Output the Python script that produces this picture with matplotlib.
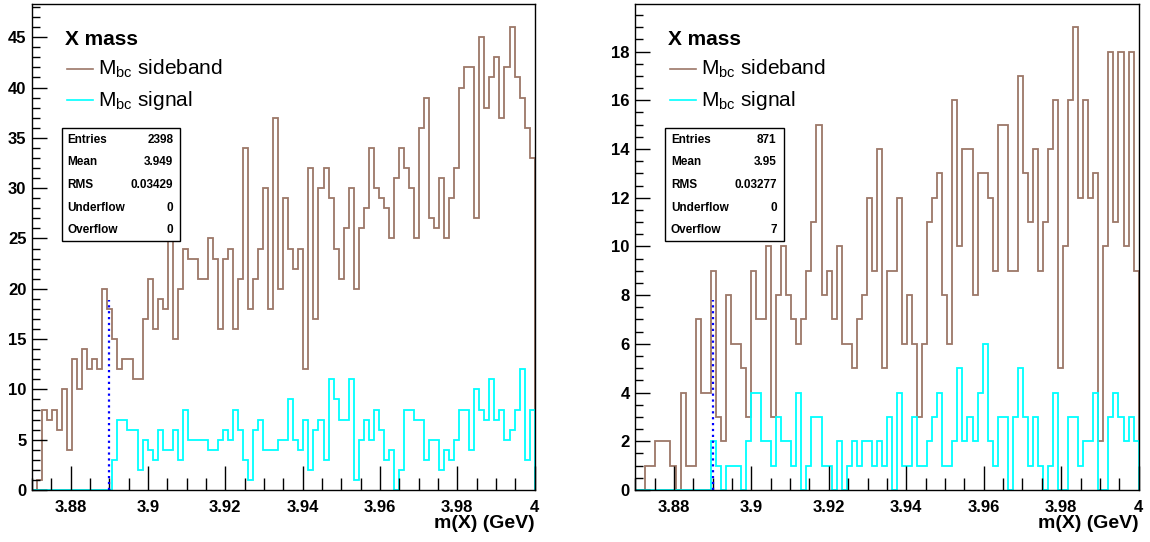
import numpy as np
import matplotlib
matplotlib.use("Agg")
import matplotlib.pyplot as plt
from matplotlib.patches import Rectangle
from matplotlib.lines import Line2D
from matplotlib.ticker import FixedLocator, MultipleLocator

plt.rcParams['font.family'] = ['Liberation Sans', 'DejaVu Sans']

# 100 bins between 3.87 and 4.0 GeV
edges = np.linspace(3.87, 4.0, 101)
xticks = [3.88, 3.90, 3.92, 3.94, 3.96, 3.98, 4.00]
xticklabels = ["3.88", "3.9", "3.92", "3.94", "3.96", "3.98", "4"]

left_sideband = [0, 1, 8, 7, 8, 6, 10, 4, 13, 10, 14, 12, 13, 12, 20, 18, 15, 12, 13, 13,
                 11, 11, 17, 21, 16, 19, 18, 26, 15, 20, 24, 23, 23, 21, 21, 25, 23, 16, 23, 24,
                 16, 21, 34, 18, 21, 24, 30, 18, 37, 20, 29, 24, 22, 24, 12, 32, 17, 30, 32, 29,
                 24, 21, 26, 30, 20, 26, 28, 34, 30, 29, 28, 25, 31, 34, 32, 30, 25, 36, 39, 27,
                 26, 31, 25, 29, 32, 40, 42, 42, 27, 45, 38, 41, 43, 37, 42, 46, 41, 39, 36, 33]
left_signal = [0, 0, 0, 0, 0, 0, 0, 0, 0, 0, 0, 0, 0, 0, 0, 0, 3, 7, 7, 6,
               6, 2, 5, 4, 3, 6, 4, 4, 6, 3, 8, 5, 5, 5, 5, 4, 4, 5, 6, 5,
               8, 6, 3, 1, 6, 7, 4, 4, 4, 5, 5, 9, 5, 4, 7, 2, 6, 7, 3, 11,
               9, 7, 7, 11, 1, 5, 7, 5, 8, 6, 3, 4, 0, 2, 8, 8, 7, 7, 3, 5,
               5, 2, 4, 3, 5, 8, 8, 4, 10, 8, 7, 11, 7, 8, 5, 6, 8, 12, 3, 8]

right_sideband = [0, 0, 1, 1, 2, 2, 2, 1, 0, 4, 1, 1, 7, 4, 4, 9, 3, 2, 8, 6,
                  6, 5, 3, 9, 7, 7, 10, 3, 8, 10, 8, 7, 6, 7, 9, 11, 15, 8, 9, 7,
                  10, 6, 6, 5, 7, 8, 12, 9, 14, 5, 9, 9, 12, 6, 8, 6, 3, 6, 11, 12,
                  13, 8, 6, 16, 10, 14, 14, 8, 13, 13, 12, 9, 15, 15, 9, 9, 17, 13, 11, 14,
                  9, 11, 14, 16, 5, 10, 16, 19, 12, 16, 12, 13, 2, 10, 18, 11, 18, 10, 18, 9]
right_signal = [0, 0, 0, 0, 0, 0, 0, 0, 0, 0, 0, 0, 0, 0, 0, 2, 1, 0, 1, 1,
                1, 0, 2, 4, 4, 2, 2, 1, 3, 2, 2, 1, 4, 0, 1, 3, 3, 1, 1, 0,
                2, 0, 1, 2, 1, 2, 2, 1, 2, 1, 3, 0, 4, 1, 1, 3, 1, 1, 2, 3,
                4, 1, 1, 2, 5, 2, 3, 2, 4, 6, 2, 1, 3, 3, 0, 3, 5, 3, 1, 3,
                1, 0, 1, 4, 0, 0, 3, 3, 1, 2, 2, 4, 0, 0, 3, 4, 3, 2, 3, 2]

stat_names = ["Entries", "Mean", "RMS", "Underflow", "Overflow"]
left_stats = ["2398", "3.949", "0.03429", "0", "0"]
right_stats = ["871", "3.95", "0.03277", "0", "7"]

cut = 3.89
brown = "#9c7768"
cyan = "#00ffff"

fig = plt.figure(figsize=(11.5, 5.42), dpi=100)

panels = [
    ([0.0278, 0.0959, 0.4371, 0.8967], left_sideband, left_signal, left_stats, 5, 1),
    ([0.5524, 0.0959, 0.4377, 0.8967], right_sideband, right_signal, right_stats, 2, 0.5),
]

for rect, side, sig, stats, ymaj, ymin in panels:
    ax = fig.add_axes(rect)
    top = 1.05 * max(side)
    ax.stairs(side, edges, color=brown, lw=1.3)
    ax.stairs(sig, edges, color=cyan, lw=1.3)
    ax.plot([cut, cut], [0, 0.39 * top], color="blue", ls=":", lw=1.6)
    ax.set_xlim(3.87, 4.0)
    ax.set_ylim(0, top)

    ax.xaxis.set_major_locator(FixedLocator(xticks))
    ax.set_xticklabels(xticklabels)
    ax.xaxis.set_minor_locator(MultipleLocator(0.005))
    ax.yaxis.set_major_locator(MultipleLocator(ymaj))
    ax.yaxis.set_minor_locator(MultipleLocator(ymin))
    ax.tick_params(axis="x", which="major", direction="in", length=17, width=1,
                   labelsize=12, pad=7, top=False)
    ax.tick_params(axis="x", which="minor", direction="in", length=9, width=1, top=False)
    ax.tick_params(axis="y", which="major", direction="in", length=11, width=1,
                   labelsize=12, pad=4, right=False)
    ax.tick_params(axis="y", which="minor", direction="in", length=6, width=1, right=False)
    for lab in ax.get_xticklabels() + ax.get_yticklabels():
        lab.set_fontweight("bold")
    for sp in ax.spines.values():
        sp.set_linewidth(1)

    ax.set_xlabel("m(X) (GeV)", fontsize=14, fontweight="bold", ha="right")
    ax.xaxis.set_label_coords(1.0, -0.068)
    ax.xaxis.label.set_va("center")

    # legend
    ax.text(0.066, 0.926, "X mass", transform=ax.transAxes, fontsize=15,
            fontweight="bold", va="center")
    for yy, col, lab in [(0.866, brown, r"$\mathregular{M_{bc}}$ sideband"),
                         (0.802, cyan, r"$\mathregular{M_{bc}}$ signal")]:
        ax.add_line(Line2D([0.07, 0.121], [yy, yy], color=col, lw=1.2,
                           transform=ax.transAxes))
        ax.text(0.131, yy, lab, transform=ax.transAxes, fontsize=15, va="center")

    # stats box
    ax.add_patch(Rectangle((0.059, 0.513), 0.236, 0.231, transform=ax.transAxes,
                           facecolor="white", edgecolor="black", lw=1, zorder=5))
    for yy, name, val in zip([0.720, 0.674, 0.628, 0.581, 0.534], stat_names, stats):
        ax.text(0.071, yy, name, transform=ax.transAxes, fontsize=8.5,
                fontweight="bold", va="center", zorder=6)
        ax.text(0.281, yy, val, transform=ax.transAxes, fontsize=8.5,
                fontweight="bold", va="center", ha="right", zorder=6)

fig.savefig("out.png", dpi=100)
